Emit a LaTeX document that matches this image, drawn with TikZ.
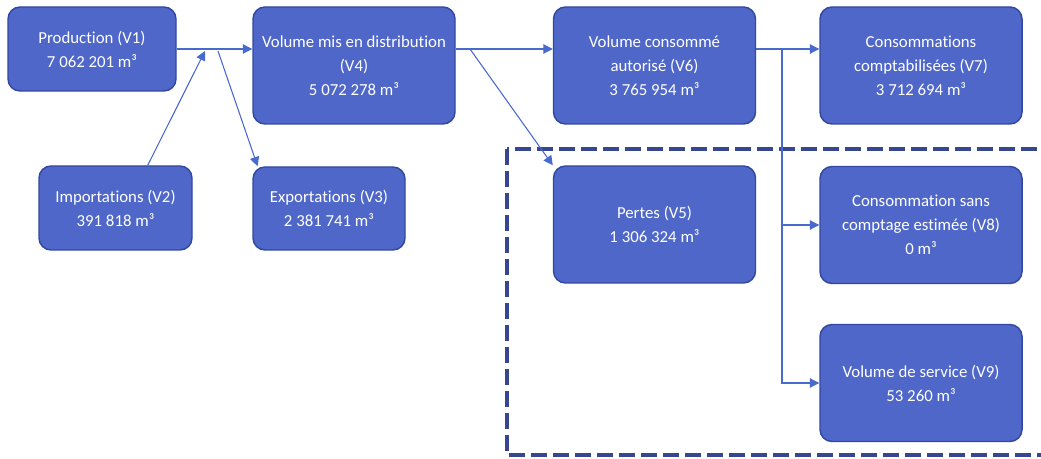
\documentclass[tikz,border=0pt]{standalone}
\usepackage{fontspec}
\setmainfont{Carlito}[Ligatures=NoCommon]
\usetikzlibrary{arrows.meta}
\definecolor{boxfill}{RGB}{79,103,200}
\definecolor{boxline}{RGB}{50,72,160}
\definecolor{flow}{RGB}{72,105,205}
\definecolor{zone}{RGB}{55,70,145}
\tikzset{
  vol/.style={draw=boxline,line width=1.1pt,fill=boxfill,rounded corners=9pt,
    text=white,align=center,inner sep=0pt,font=\fontsize{12.6}{18}\selectfont},
  big/.style={vol,minimum width=151.5pt,minimum height=87.75pt},
  flux/.style={draw=flow,line width=0.8pt,-{Triangle[length=7pt,width=7pt]}}
}
\begin{document}
\begin{tikzpicture}[x=0.75pt,y=-0.75pt]
\useasboundingbox (0,0) rectangle (1041,459);
\clip (0,0) rectangle (1041,459);
\draw[zone,line width=3.2pt,dash pattern=on 12pt off 4.5pt] (507,149) rectangle (1060,455);
\node[vol,minimum width=126pt,minimum height=63pt] (v1) at (92,49) {Production (V1)\\7 062 201 m³};
\node[vol,minimum width=114.75pt,minimum height=63pt] (v2) at (115.5,208) {Importations (V2)\\391 818 m³};
\node[vol,minimum width=114pt,minimum height=62.25pt] (v3) at (329,208.5) {Exportations (V3)\\2 381 741 m³};
\node[big] (v4) at (354,65.5) {Volume mis en distribution\\(V4)\\5 072 278 m³};
\node[big] (v6) at (654.5,65.5) {Volume consommé\\autorisé (V6)\\3 765 954 m³};
\node[big] (v7) at (921,65.5) {Consommations\\comptabilisées (V7)\\3 712 694 m³};
\node[big] (v5) at (654.5,224.5) {Pertes (V5)\\1 306 324 m³};
\node[big] (v8) at (921,225) {Consommation sans\\comptage estimée (V8)\\0 m³};
\node[big] (v9) at (921,383) {Volume de service (V9)\\53 260 m³};
\coordinate (r) at (0,49);
\coordinate (j1) at (205,51);
\coordinate (j2) at (218,51);
\coordinate (j3) at (470,49);
\coordinate (j4) at (782,49);
\draw[flux] (v1.east |- r) -- (v4.west |- r);
\draw[flux] (v2.53) -- (j1);
\draw[flux] (j2) -- ([xshift=4pt]v3.north west);
\draw[flux] (v4.east |- r) -- (v6.west |- r);
\draw[flux] (j3) -- (v5.north west);
\draw[flux] (v6.east |- r) -- (v7.west |- r);
\draw[flux] (j4) |- (v9.west);
\draw[flux] (j4 |- v8.west) -- (v8.west);
\end{tikzpicture}
\end{document}
